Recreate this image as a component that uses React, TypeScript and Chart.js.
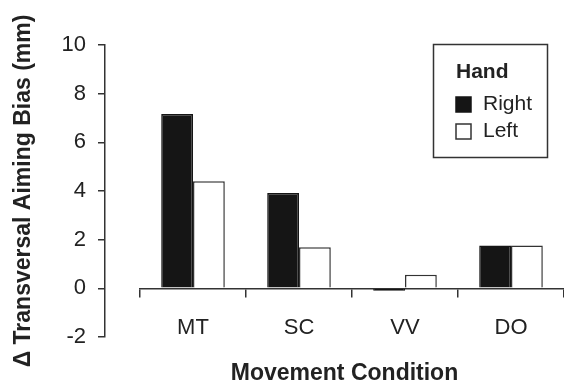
import React, { useEffect, useRef } from 'react';
import { Chart, registerables } from 'chart.js';

Chart.register(...registerables);

// ---- data ----
const categories = ['MT', 'SC', 'VV', 'DO'];
const rightHand = [7.16, 3.92, -0.1, 1.76];
const leftHand = [4.4, 1.69, 0.56, 1.76];
const seriesLabels = ['Right', 'Left'];
const yMin = -2;
const yMax = 10;
const yStep = 2;
const legendTitle = 'Hand';
const xTitle = 'Movement Condition';
const yTitle = 'Δ Transversal Aiming Bias (mm)';

const FONT = '"Liberation Sans", Arial, Helvetica, sans-serif';
const INK = '#222222';

// Shift the category axis so it starts a bit right of the value axis, and centre the title.
const layoutTweak = {
  id: 'layoutTweak',
  afterLayout(chart: any, _args: any, opts: any) {
    const x = chart.scales.x;
    x.left = chart.chartArea.left + opts.xStart;
    x.width = x.right - x.left;
    x.configure();
    const t = chart.titleBlock;
    if (t) {
      t.left = chart.chartArea.left + opts.titleShift;
      t.width = t.right - t.left;
    }
  },
};

// Boxed legend with a title.
const boxLegend = {
  id: 'boxLegend',
  afterDraw(chart: any, _args: any, o: any) {
    const { ctx } = chart;
    ctx.save();
    ctx.strokeStyle = o.borderColor;
    ctx.lineWidth = o.borderWidth;
    ctx.strokeRect(o.left, o.top, o.width, o.height);
    ctx.fillStyle = o.color;
    ctx.textAlign = 'left';
    ctx.textBaseline = 'middle';
    ctx.font = `bold ${o.titleSize}px ${FONT}`;
    ctx.fillText(o.title, o.itemX, o.titleY);
    ctx.font = `${o.itemSize}px ${FONT}`;
    chart.data.datasets.forEach((ds: any, i: number) => {
      const cy = o.firstItemY + i * o.itemGap;
      const s = o.boxSize;
      ctx.fillStyle = ds.backgroundColor;
      ctx.fillRect(o.itemX, cy - s / 2, s, s);
      ctx.strokeStyle = ds.borderColor;
      ctx.lineWidth = 1.5;
      ctx.strokeRect(o.itemX, cy - s / 2, s, s);
      ctx.fillStyle = o.color;
      ctx.fillText(ds.label, o.textX, cy);
    });
    ctx.restore();
  },
};

export default function App() {
  const ref = useRef<HTMLCanvasElement | null>(null);

  useEffect(() => {
    if (!ref.current) return;
    const chart = new Chart(ref.current, {
      type: 'bar',
      data: {
        labels: categories,
        datasets: [
          {
            label: seriesLabels[0],
            data: rightHand,
            backgroundColor: '#151515',
            borderColor: '#151515',
            borderWidth: 1.5,
          },
          {
            label: seriesLabels[1],
            data: leftHand,
            backgroundColor: '#ffffff',
            borderColor: '#333333',
            borderWidth: 1.5,
          },
        ],
      },
      options: {
        responsive: false,
        animation: false,
        events: [],
        layout: { padding: { top: 45, right: 0, bottom: 0, left: 0 } },
        datasets: { bar: { categoryPercentage: 0.6, barPercentage: 1.0 } },
        scales: {
          x: {
            type: 'category',
            position: { y: 0 } as any,
            offset: true,
            grid: {
              offset: true,
              drawOnChartArea: false,
              drawTicks: true,
              tickLength: 8,
              color: '#333333',
              lineWidth: 1.5,
            },
            border: { display: true, color: '#333333', width: 1.5 },
            ticks: {
              color: INK,
              font: { family: FONT, size: 22 },
              padding: 18,
              maxRotation: 0,
              autoSkip: false,
            },
          },
          y: {
            type: 'linear',
            position: 'left',
            min: yMin,
            max: yMax,
            ticks: {
              stepSize: yStep,
              color: INK,
              font: { family: FONT, size: 22 },
              padding: 12,
            },
            grid: {
              drawOnChartArea: false,
              drawTicks: true,
              tickLength: 7,
              color: '#333333',
              lineWidth: 1.5,
            },
            border: { display: true, color: '#333333', width: 1.5 },
            title: {
              display: true,
              text: yTitle,
              color: INK,
              font: { family: FONT, size: 23, weight: 'bold', lineHeight: 1.2 },
              padding: { top: 10, bottom: 0 },
            },
            afterFit: (scale: any) => {
              scale.width = 105;
            },
          },
        },
        plugins: {
          legend: { display: false },
          tooltip: { enabled: false },
          title: {
            display: true,
            position: 'bottom',
            fullSize: false,
            text: xTitle,
            color: INK,
            font: { family: FONT, size: 23, weight: 'bold', lineHeight: 1 },
            padding: { top: 25, bottom: -2 },
          },
          layoutTweak: { xStart: 35, titleShift: 20 },
          boxLegend: {
            left: 433.5,
            top: 44.5,
            width: 114,
            height: 113,
            borderColor: '#333333',
            borderWidth: 1.5,
            color: INK,
            title: legendTitle,
            titleSize: 21,
            itemSize: 21,
            itemX: 456,
            textX: 483,
            titleY: 72,
            firstItemY: 104.5,
            itemGap: 27,
            boxSize: 15,
          },
        } as any,
      },
      plugins: [layoutTweak, boxLegend],
    });
    return () => chart.destroy();
  }, []);

  return (
    <div style={{ position: 'fixed', left: 0, top: 0, width: 564, height: 383, background: '#fff' }}>
      <canvas ref={ref} width={564} height={383} style={{ display: 'block' }} />
    </div>
  );
}
